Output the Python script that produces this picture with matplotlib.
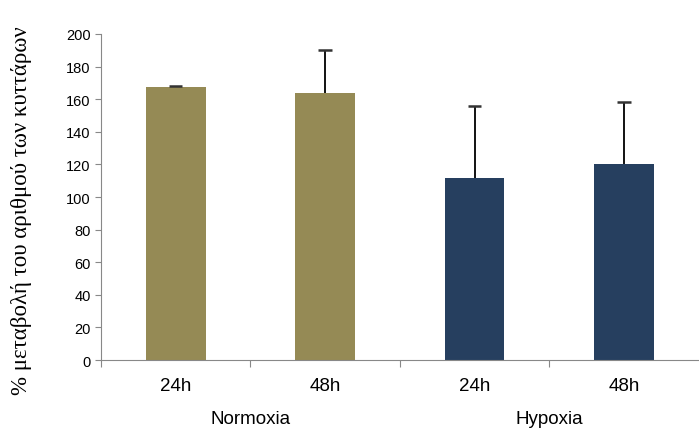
import numpy as np
import matplotlib.pyplot as plt

plt.rcParams['font.family'] = ['Liberation Sans', 'DejaVu Sans']

times = ['24h', '48h', '24h', '48h']
groups = ['Normoxia', 'Hypoxia']
values = [167.5, 164, 111.5, 120.5]
err_up = [0.8, 26, 44.5, 38]
colors = ['#958a55', '#958a55', '#263f5f', '#263f5f']

fig = plt.figure(figsize=(6.99, 4.31), dpi=100)
ax = fig.add_axes([0.1445, 0.1624, 0.855, 0.7564])

x = np.arange(len(values))
ax.bar(x, values, width=0.4, color=colors, zorder=2)
tops = np.array(values) + np.array(err_up)
# only upper error bars, no cap at bar top
ax.vlines(x, values, tops, color='black', lw=1.3, zorder=3)
ax.hlines(tops, x - 0.045, x + 0.045, color='#333333', lw=1.8, zorder=3)

ax.set_xlim(-0.5, 3.5)
ax.set_ylim(0, 200)
ax.set_yticks(np.arange(0, 201, 20))
ax.tick_params(axis='y', labelsize=10.5, length=4, color='#888888', direction='out')

ax.set_xticks([-0.5, 0.5, 1.5, 2.5])
ax.set_xticklabels([])
ax.tick_params(axis='x', which='major', length=5, color='#888888')
ax.set_xticks(x, minor=True)
ax.set_xticklabels(times, minor=True, fontsize=13.5)
ax.tick_params(axis='x', which='minor', length=0, pad=12)

for i, g in enumerate(groups):
    ax.text(2 * i + 0.5, -0.18, g, transform=ax.get_xaxis_transform(),
            ha='center', va='center', fontsize=13.5)

for s in ['top', 'right']:
    ax.spines[s].set_visible(False)
for s in ['left', 'bottom']:
    ax.spines[s].set_color('#888888')

ax.set_ylabel('% μεταβολή του αριθμού των κυττάρων',
              fontfamily=['Liberation Serif', 'DejaVu Serif'], fontsize=16.5)
ax.yaxis.set_label_coords(-0.115, 0.46)

plt.savefig('out.png')
